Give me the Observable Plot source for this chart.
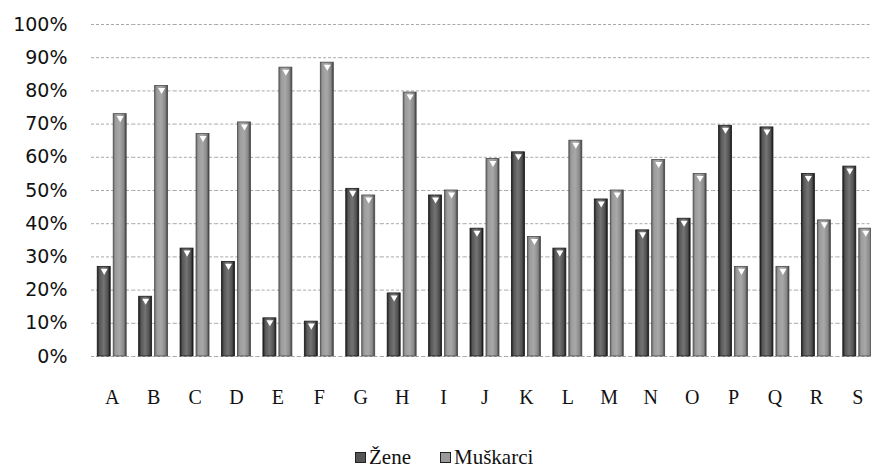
<!DOCTYPE html>
<html>
<head>
<meta charset="utf-8">
<script src="https://cdn.jsdelivr.net/npm/d3@7"></script>
<script src="https://cdn.jsdelivr.net/npm/@observablehq/plot@0.6"></script>
<style>
  html, body { margin: 0; padding: 0; background: #fff; overflow: hidden; width: 871px; height: 468px; }
  #chart { position: absolute; left: 0; top: 0; width: 878px; }
  #chart svg { max-width: none !important; }
  #legend { position: absolute; top: 446px; left: 355px; font-family: "Liberation Serif", serif; font-size: 21px; color: #111; display: flex; align-items: center; line-height: 22px; }
  #legend .item { display: flex; align-items: center; }
  #legend .item:first-child { width: 85px; }
  #legend .sw { width: 9px; height: 9px; margin-right: 3px; border: 1px solid #222; }
</style>
</head>
<body>
<div id="chart"></div>
<div id="legend"></div>
<script>
const categories = ["A","B","C","D","E","F","G","H","I","J","K","L","M","N","O","P","Q","R","S"];
const series = ["Žene", "Muškarci"];
const zene =     [0.27, 0.18, 0.325, 0.285, 0.115, 0.105, 0.505, 0.19, 0.485, 0.385, 0.615, 0.325, 0.473, 0.38, 0.415, 0.695, 0.69, 0.55, 0.572];
const muskarci = [0.73, 0.815, 0.67, 0.705, 0.87, 0.885, 0.485, 0.795, 0.50, 0.595, 0.36, 0.65, 0.50, 0.592, 0.55, 0.27, 0.27, 0.41, 0.385];
const yTicks = [0, 0.1, 0.2, 0.3, 0.4, 0.5, 0.6, 0.7, 0.8, 0.9, 1.0];
const seriesFill = {"Žene": "url(#gz)", "Muškarci": "url(#gm)"};

const data = [];
categories.forEach((c, i) => {
  data.push({cat: c, series: "Žene", value: zene[i]});
  data.push({cat: c, series: "Muškarci", value: muskarci[i]});
});

const chart = Plot.plot({
  width: 878,
  height: 430,
  marginTop: 24,
  marginBottom: 74,
  marginLeft: 91,
  marginRight: 0,
  style: {background: "transparent", color: "#111"},
  fx: {domain: categories, padding: 0, round: false, label: null},
  x: {domain: series, paddingInner: 0.1875, paddingOuter: 0.39, round: false, axis: null},
  y: {domain: [0, 1], label: null},
  marks: [
    Plot.ruleY(yTicks, {stroke: "#a8a8a8", strokeWidth: 1, strokeDasharray: "3,2"}),
    Plot.barY(data.filter(d => d.series === "Žene"), {fx: "cat", x: "series", y: "value", fill: seriesFill["Žene"], stroke: "#1a1a1a", strokeWidth: 0.8}),
    Plot.barY(data.filter(d => d.series === "Muškarci"), {fx: "cat", x: "series", y: "value", fill: seriesFill["Muškarci"], stroke: "#4a4a4a", strokeWidth: 0.8}),
    Plot.dot(data, {fx: "cat", x: "series", y: "value", symbol: "triangle", rotate: 180, r: 2.6, fill: "white", stroke: "none", dy: 4}),
    Plot.axisY({ticks: yTicks, tickFormat: d3.format(".0%"), tickSize: 0, tickPadding: 24, fontSize: 19, fontFamily: "DejaVu Sans", label: null}),
    Plot.axisFx({anchor: "bottom", tickSize: 0, tickPadding: 33, fontSize: 20, fontFamily: "Liberation Serif", label: null})
  ]
});

d3.select(chart).insert("defs", ":first-child").html(`
  <linearGradient id="gz" x1="0" x2="1" y1="0" y2="0">
    <stop offset="0" stop-color="#1a1a1a"/>
    <stop offset="0.18" stop-color="#575757"/>
    <stop offset="0.5" stop-color="#747474"/>
    <stop offset="0.82" stop-color="#505050"/>
    <stop offset="1" stop-color="#141414"/>
  </linearGradient>
  <linearGradient id="gm" x1="0" x2="1" y1="0" y2="0">
    <stop offset="0" stop-color="#6a6a6a"/>
    <stop offset="0.18" stop-color="#9c9c9c"/>
    <stop offset="0.5" stop-color="#a8a8a8"/>
    <stop offset="0.82" stop-color="#888"/>
    <stop offset="1" stop-color="#383838"/>
  </linearGradient>`);

document.getElementById("chart").appendChild(chart);

const legend = document.getElementById("legend");
const swColors = {"Žene": "#555", "Muškarci": "#9a9a9a"};
series.forEach(s => {
  const item = document.createElement("div");
  item.className = "item";
  const sw = document.createElement("span");
  sw.className = "sw";
  sw.style.background = swColors[s];
  const t = document.createElement("span");
  t.textContent = s;
  item.appendChild(sw);
  item.appendChild(t);
  legend.appendChild(item);
});
</script>
</body>
</html>
